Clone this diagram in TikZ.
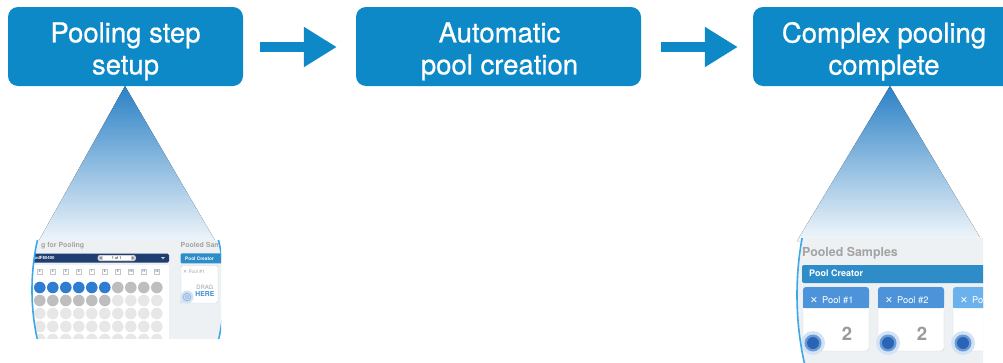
\documentclass[tikz,border=0pt]{standalone}
\usepackage{fontspec}
\setmainfont{TeX Gyre Heros}
\newfontfamily\symfont{DejaVu Sans}
\newfontface\boxfont{TeX Gyre Heros}[FakeBold=0.7]
\usetikzlibrary{arrows.meta}
\definecolor{boxblue}{HTML}{0C89C6}
\definecolor{tritop}{HTML}{2B81C6}
\definecolor{tribot}{HTML}{F2F7FB}
\definecolor{shotbg}{HTML}{EEF1F4}
\definecolor{navy}{HTML}{1E3D70}
\definecolor{btnblue}{HTML}{2E8DC8}
\definecolor{dotblue}{HTML}{2F7DD1}
\definecolor{dotgray}{HTML}{BEBEBE}
\definecolor{dotlight}{HTML}{E7E7E7}
\definecolor{txtgray}{HTML}{A3A3A3}
\definecolor{bigtwo}{HTML}{9A9A9A}
\definecolor{ringblue}{HTML}{3DA8E8}
\definecolor{cardhead}{HTML}{4C93DA}
\definecolor{cardheadlight}{HTML}{6BB1EC}
\definecolor{cardborder}{HTML}{CFD3D8}
\definecolor{iconhalo}{HTML}{D3E3F4}
\definecolor{iconring}{HTML}{6B9BD6}
\definecolor{icondark}{HTML}{2A64B6}
\definecolor{hereblue}{HTML}{3B8FD8}
\definecolor{tagtext}{HTML}{5B7FA8}
\begin{document}
\begin{tikzpicture}[x=1pt,y=-1pt,
  stepbox/.style={fill=boxblue, rounded corners=10pt, inner sep=0pt, minimum height=79pt},
  steptext/.style={text=white, font=\boxfont\fontsize{27.5}{32}\selectfont, align=center, inner sep=0pt},
  flowarrow/.style={draw=boxblue, line width=10pt, -{Triangle[length=33pt,width=38pt]}},
  ringline/.style={draw=ringblue, line width=1.6pt},
  tinytext/.style={inner sep=0pt, anchor=base west},
  tagbox/.style={draw=gray!45, fill=white, inner sep=0pt, minimum width=5pt, minimum height=5.5pt, text=tagtext, font=\bfseries\fontsize{3.2}{3.5}\selectfont},
]
\fill[white] (0,0) rectangle (1003,362);
\useasboundingbox (0,0) rectangle (1003,362);

% gradient cones
\coordinate (apex1) at (125,86);
\coordinate (apex2) at (890,86);
\fill[top color=tritop, bottom color=tribot] (apex1) -- (37,244) -- (217,244) -- cycle;
\fill[top color=tritop, bottom color=tribot] (apex2) -- (797,241) -- (982,241) -- cycle;

% step boxes
\node[stepbox, minimum width=235pt] (b1) at (125.5,46.5) {};
\node[stepbox, minimum width=285pt] (b2) at (498.5,46.5) {};
\node[stepbox, minimum width=262pt] (b3) at (884,46.5) {};
\node[steptext] (t1) at (125.5,51.3) {Pooling step\\setup};
\node[steptext] (t2) at (499.5,51.3) {Automatic\\pool creation};
\node[steptext] (t3) at (884,51.3) {Complex pooling\\complete};

% arrows
\draw[flowarrow, shorten <=17pt, shorten >=19pt] ([yshift=-0.5pt]b1.east) -- ([yshift=-0.5pt]b2.west);
\draw[flowarrow, shorten <=20pt, shorten >=15pt] ([yshift=-0.5pt]b2.east) -- ([yshift=-0.5pt]b3.west);

% ---------- left screenshot ----------
\begin{scope}
  \clip (30,240) rectangle (221,338);
  \clip (128,290) ellipse [x radius=96pt, y radius=150pt];
  \fill[shotbg] (20,235) rectangle (230,345);
  \node[tinytext, text=txtgray, font=\bfseries\fontsize{7}{8}\selectfont] (lhead) at (41,247.7) {g for Pooling};
  \node[tinytext, text=txtgray, font=\bfseries\fontsize{7}{8}\selectfont] (lpooled) at (180.5,247.7) {Pooled Sam};
  % plate bar
  \fill[navy, rounded corners=1.5pt] (30,253.5) rectangle (169,262.5);
  \node[tinytext, text=white, font=\bfseries\fontsize{4.3}{5}\selectfont] (plate) at (34.5,259.6) {odF80400};
  \fill[gray!35, rounded corners=2.5pt] (97.5,255) rectangle (136,261);
  \fill[white] (103,255.6) rectangle (130.5,260.4);
  \node[inner sep=0pt, font=\fontsize{3.8}{4}\selectfont] (pager) at (116.7,258) {1 of 1};
  \fill[gray] (99.3,258) -- (101.6,256.6) -- (101.6,259.4) -- cycle;
  \fill[gray] (134.2,258) -- (131.9,256.6) -- (131.9,259.4) -- cycle;
  \fill[white!75!navy] (161,257) -- (165,257) -- (163,259.3) -- cycle;
  % well grid
  \fill[white] (30,265) rectangle (169,345);
  \foreach \n [count=\i from 0] in {3,...,12}{
    \pgfmathsetmacro\cx{39.8+13*\i}
    \node[tagbox] (tag\n) at (\cx,271.5) {\n};
    \ifnum\i<6
      \fill[dotblue] (\cx,287.5) circle[radius=5.8pt];
      \fill[dotgray] (\cx,300.5) circle[radius=5.8pt];
    \else
      \fill[dotgray] (\cx,287.5) circle[radius=5.8pt];
      \fill[dotlight] (\cx,300.5) circle[radius=5.8pt];
    \fi
    \foreach \yy in {313.5,326.5,339.5}{\fill[dotlight] (\cx,\yy) circle[radius=5.8pt];}
  }
  % pool creator (small)
  \fill[btnblue, rounded corners=1pt] (180.7,253.3) rectangle (224,263.3);
  \node[tinytext, text=white, font=\bfseries\fontsize{4.8}{5}\selectfont] (lcreator) at (185,260.2) {Pool Creator};
  \draw[cardborder, fill=white, rounded corners=1.5pt] (181,265.5) rectangle (218,303);
  \node[tinytext, text=txtgray, font=\fontsize{4.8}{5}\selectfont] (lpool) at (183,273.3) {{\symfont ✕} Pool \#1};
  \node[inner sep=0pt, anchor=base east, text=txtgray, font=\fontsize{5.9}{6}\selectfont] (drag) at (213.5,289) {DRAG};
  \node[inner sep=0pt, anchor=base east, text=hereblue, font=\bfseries\fontsize{6.8}{7}\selectfont] (here) at (214.5,296) {HERE};
  \fill[iconhalo] (187,297) circle[radius=6.5pt];
  \fill[iconhalo] (179.5,303.5) -- (183,298) -- (186,302) -- cycle;
  \draw[draw=iconring!70!white, line width=0.9pt] (187,297) circle[radius=3.8pt];
  \fill[iconring!55!white] (187,297) circle[radius=2.4pt];
\end{scope}
\begin{scope}
  \clip (30,240) rectangle (221,338);
  \draw[ringline] (128,290) ellipse [x radius=96pt, y radius=150pt];
\end{scope}

% ---------- right screenshot ----------
\begin{scope}
  \clip (795,238) rectangle (983,362);
  \clip (897,295) ellipse [x radius=100pt, y radius=180pt];
  \fill[shotbg] (790,230) rectangle (1000,370);
  \node[tinytext, text=txtgray, font=\bfseries\fontsize{12.4}{13}\selectfont] (rpooled) at (802,256) {Pooled Samples};
  \fill[btnblue, rounded corners=2pt] (802,265) rectangle (1000,283);
  \node[tinytext, text=white, font=\bfseries\fontsize{9}{10}\selectfont] (rcreator) at (809,276) {Pool Creator};
  \foreach \k/\x/\hc in {1/803/cardhead, 2/878/cardhead, 3/953/cardheadlight}{
    \draw[cardborder, fill=white, rounded corners=3pt] (\x,287) rectangle ++(66,64);
    \fill[\hc, rounded corners=3pt] (\x,287) rectangle ++(66,21);
    \fill[\hc] (\x,300) rectangle ++(66,8);
  }
  \node[tinytext, text=white, font=\fontsize{9.3}{10}\selectfont] (pool1) at (810,303) {{\symfont\bfseries ✕}\, Pool \#1};
  \node[tinytext, text=white, font=\fontsize{9.3}{10}\selectfont] (pool2) at (885,303) {{\symfont\bfseries ✕}\, Pool \#2};
  \node[tinytext, text=white, font=\fontsize{9.3}{10}\selectfont] (pool3) at (960,303) {{\symfont\bfseries ✕}\, Po};
  \node[inner sep=0pt, anchor=base, text=bigtwo, font=\bfseries\fontsize{18.5}{19}\selectfont] (two1) at (847,340) {2};
  \node[inner sep=0pt, anchor=base, text=bigtwo, font=\bfseries\fontsize{18.5}{19}\selectfont] (two2) at (922,340) {2};
  \foreach \x in {813,888,963}{
    \fill[iconhalo] (\x,343) circle[radius=12pt];
    \fill[iconring] (\x,343) circle[radius=8.5pt];
    \fill[icondark] (\x,343) circle[radius=6pt];
  }
\end{scope}
\begin{scope}
  \clip (795,238) rectangle (983,362);
  \draw[ringline] (897,295) ellipse [x radius=100pt, y radius=180pt];
\end{scope}
\end{tikzpicture}
\end{document}
